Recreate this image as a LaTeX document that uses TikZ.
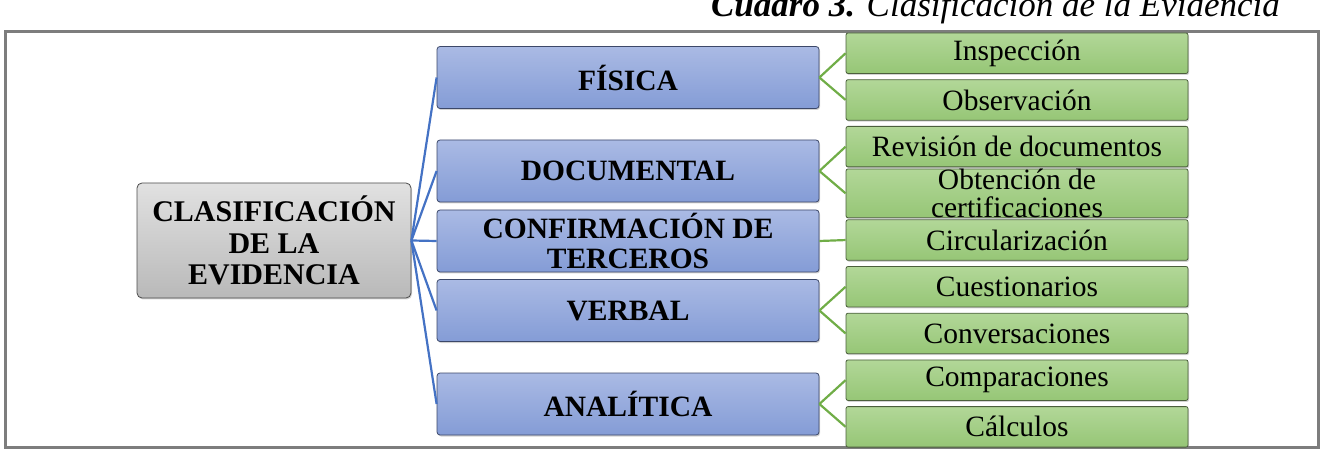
\documentclass[tikz,border=0pt]{standalone}
\usepackage{fontspec}
\setmainfont{Liberation Serif}
\usetikzlibrary{shadows}
\definecolor{bluetop}{RGB}{170,186,228}
\definecolor{bluebot}{RGB}{132,156,214}
\definecolor{blueline}{RGB}{68,114,196}
\definecolor{blueedge}{RGB}{60,72,105}
\definecolor{greentop}{RGB}{178,215,152}
\definecolor{greenbot}{RGB}{150,198,118}
\definecolor{greenline}{RGB}{112,173,71}
\definecolor{greenedge}{RGB}{75,95,60}
\definecolor{graytop}{RGB}{225,225,225}
\definecolor{graybot}{RGB}{185,185,185}
\definecolor{frameclr}{RGB}{125,125,125}
\tikzset{
  rootbox/.style={draw=black!70, line width=0.8pt, rounded corners=5pt,
    top color=graytop, bottom color=graybot, minimum width=274pt, minimum height=115pt,
    inner sep=0pt, align=center, font=\fontsize{30}{31.5}\selectfont\bfseries,
    drop shadow={shadow xshift=1pt, shadow yshift=-1.5pt, opacity=0.35}},
  catbox/.style={draw=blueedge, line width=0.8pt, rounded corners=3pt,
    top color=bluetop, bottom color=bluebot, minimum width=382pt, minimum height=62pt,
    inner sep=0pt, align=center, font=\fontsize{29.5}{30}\selectfont\bfseries,
    drop shadow={shadow xshift=1pt, shadow yshift=-1.5pt, opacity=0.35}},
  itembox/.style={draw=greenedge, line width=0.8pt, rounded corners=2pt,
    top color=greentop, bottom color=greenbot, minimum width=342pt, minimum height=40.5pt,
    inner sep=0pt, align=center, font=\fontsize{29.5}{28}\selectfont,
    drop shadow={shadow xshift=1pt, shadow yshift=-1.5pt, opacity=0.35}},
  bluelink/.style={draw=blueline, line width=2.2pt},
  greenlink/.style={draw=greenline, line width=2.2pt},
  titletext/.style={font=\fontsize{35}{36}\selectfont, inner sep=0pt},
  framebox/.style={draw=frameclr, line width=3pt}
}
\begin{document}
\begin{tikzpicture}[x=1pt,y=-1pt]
\useasboundingbox (0,0) rectangle (1336,454);
\node[titletext, anchor=base east] (title) at (1280,17) {{\bfseries\itshape Cuadro 3.} {\itshape Clasificación de la Evidencia}};
\draw[framebox] (5,32) rectangle (1318,447);

\node[rootbox] (root) at (274,240.5) {CLASIFICACIÓN\\DE LA\\EVIDENCIA};

\node[catbox] (fis) at (628,77.5) {FÍSICA};
\node[catbox] (doc) at (628,171) {DOCUMENTAL};
\node[catbox] (con) at (628,241) {CONFIRMACIÓN DE\\TERCEROS};
\node[catbox] (ver) at (628,310.5) {VERBAL};
\node[catbox] (ana) at (628,404) {ANALÍTICA};

\node[itembox] (i1) at (1017,53.25) {Inspección};
\node[itembox] (i2) at (1017,99.95) {Observación};
\node[itembox] (i3) at (1017,146.65) {Revisión de documentos};
\node[itembox] (i4) at (1017,193.35) {Obtención de\\certificaciones};
\node[itembox] (i5) at (1017,240.05) {Circularización};
\node[itembox] (i6) at (1017,286.75) {Cuestionarios};
\node[itembox] (i7) at (1017,333.45) {Conversaciones};
\node[itembox] (i8) at (1017,380.15) {Comparaciones};
\node[itembox] (i9) at (1017,426.85) {Cálculos};

\foreach \c in {fis,doc,con,ver,ana}
  \draw[bluelink] (root.east) -- (\c.west);
\draw[greenlink] (fis.east) -- (i1.west);
\draw[greenlink] (fis.east) -- (i2.west);
\draw[greenlink] (doc.east) -- (i3.west);
\draw[greenlink] (doc.east) -- (i4.west);
\draw[greenlink] (con.east) -- (i5.west);
\draw[greenlink] (ver.east) -- (i6.west);
\draw[greenlink] (ver.east) -- (i7.west);
\draw[greenlink] (ana.east) -- (i8.west);
\draw[greenlink] (ana.east) -- (i9.west);
\end{tikzpicture}
\end{document}
